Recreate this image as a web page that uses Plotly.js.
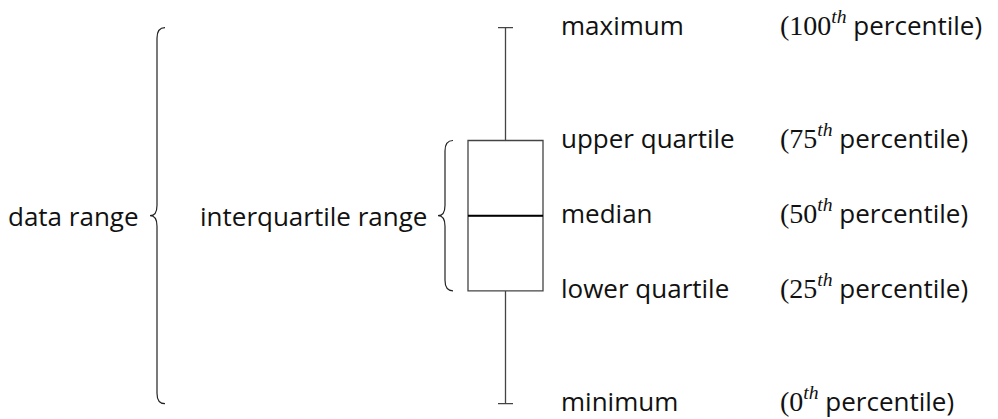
<!DOCTYPE html>
<html>
<head>
<meta charset="utf-8">
<script src="https://cdn.plot.ly/plotly-3.0.1.min.js"></script>
<style>
  html, body { margin: 0; padding: 0; background: #fff; }
  #plot { width: 998px; height: 419px; }
</style>
</head>
<body>
<div id="plot"></div>
<script>
// five-number summary shown in the diagram
let statNames = ['minimum', 'lower quartile', 'median', 'upper quartile', 'maximum']
let statValues = [0, 3, 5, 7, 10]
let percentiles = ['0', '25', '50', '75', '100']

// brace labels
let rangeNames = ['data range', 'interquartile range']
let rangeLow = [statValues[0], statValues[1]]
let rangeHigh = [statValues[4], statValues[3]]

// x positions (axis units = pixels)
let boxX = 505.5
let boxWidth = 75
let braceX = [157, 445]
let labelX = 560
let pctX = 779

let sansFont = '"Open Sans", Lato, sans-serif'
let serifFont = "'Liberation Serif', 'DejaVu Serif', serif"

// the box itself
let boxTrace = {
    type: 'box',
    x: [boxX],
    q1: [statValues[1]],
    median: [statValues[2]],
    q3: [statValues[3]],
    lowerfence: [statValues[0]],
    upperfence: [statValues[4]],
    width: boxWidth,
    whiskerwidth: 0.2,
    fillcolor: 'rgba(0,0,0,0)',
    line: {color: '#444', width: 1.3},
    boxpoints: false,
    hoverinfo: 'skip',
    showlegend: false
}

// thicker median line drawn over the box
let medianTrace = {
    type: 'scatter',
    mode: 'lines',
    x: [boxX - boxWidth / 2, boxX + boxWidth / 2],
    y: [statValues[2], statValues[2]],
    line: {color: '#000', width: 2},
    hoverinfo: 'skip',
    showlegend: false
}

// curly brace as an svg path in data coords
function bracePath(x, y0, y1) {
    let mid = (y0 + y1) / 2
    let r = 0.28
    return 'M' + (x + 8) + ',' + y1 +
        ' Q' + x + ',' + y1 + ' ' + x + ',' + (y1 - r) +
        ' L' + x + ',' + (mid + r) +
        ' Q' + x + ',' + mid + ' ' + (x - 7) + ',' + mid +
        ' Q' + x + ',' + mid + ' ' + x + ',' + (mid - r) +
        ' L' + x + ',' + (y0 + r) +
        ' Q' + x + ',' + y0 + ' ' + (x + 8) + ',' + y0
}

let shapes = braceX.map((bx, i) => ({
    type: 'path',
    xref: 'x', yref: 'y',
    path: bracePath(bx, rangeLow[i], rangeHigh[i]),
    line: {color: '#222', width: 1.2}
}))

let annotations = []
let textFont = {family: sansFont, size: 26, color: '#111'}

// labels right of the box
statNames.forEach((name, i) => {
    annotations.push({
        x: labelX, y: statValues[i], xref: 'x', yref: 'y',
        text: name, showarrow: false, borderpad: 0,
        xanchor: 'left', yanchor: 'middle', yshift: 3,
        font: textFont
    })
    annotations.push({
        x: pctX, y: statValues[i], xref: 'x', yref: 'y',
        text: '<span style="font-family:' + serifFont + ';font-size:28px">(' + percentiles[i] +
            '<sup><i>th</i></sup></span> percentile)',
        showarrow: false, borderpad: 0,
        xanchor: 'left', yanchor: 'middle', yshift: 3,
        font: textFont
    })
})

// brace labels
rangeNames.forEach((name, i) => {
    annotations.push({
        x: braceX[i] - 17, y: (rangeLow[i] + rangeHigh[i]) / 2, xref: 'x', yref: 'y',
        text: name, showarrow: false, borderpad: 0,
        xanchor: 'right', yanchor: 'middle',
        font: textFont
    })
})

let layout = {
    width: 998,
    height: 419,
    margin: {l: 0, r: 0, t: 0, b: 0},
    paper_bgcolor: '#fff',
    plot_bgcolor: '#fff',
    xaxis: {range: [0, 998], visible: false, fixedrange: true},
    yaxis: {range: [-0.407, 10.737], visible: false, fixedrange: true},
    shapes: shapes,
    annotations: annotations,
    showlegend: false
}

Plotly.newPlot('plot', [boxTrace, medianTrace], layout, {staticPlot: true})
</script>
</body>
</html>
